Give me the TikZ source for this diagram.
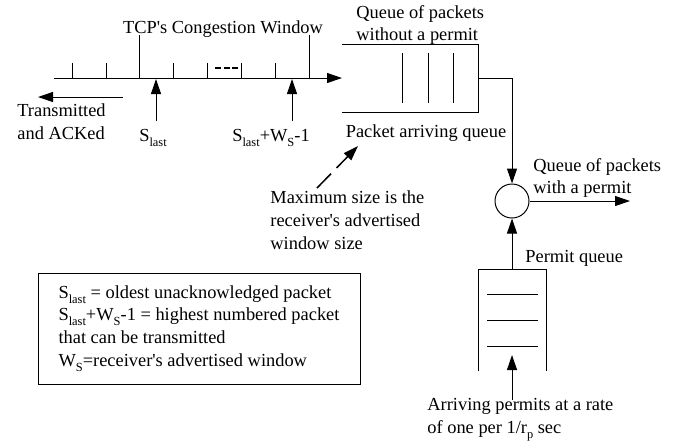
\documentclass[tikz,border=0pt]{standalone}
\usepackage{fontspec}
\setmainfont{Liberation Serif}
\usetikzlibrary{arrows.meta}
\newcommand{\lowsub}[1]{\raisebox{-2.5pt}{\fontsize{6.2}{6.2}\selectfont #1}}
\tikzset{
  lbl/.style={font=\fontsize{9.2}{11.4}\selectfont, inner sep=0pt},
  lblleft/.style={lbl, align=left, anchor=west},
  qline/.style={line width=0.5pt},
  flow/.style={qline, -{Triangle[length=7.5pt,width=5pt]}},
  legendbox/.style={lbl, draw, qline, align=left, minimum width=161pt, minimum height=55.5pt},
  mux/.style={draw, qline, circle, minimum size=17pt, inner sep=0pt},
}

\begin{document}
\begin{tikzpicture}[x=0.5pt,y=-0.5pt]
    \useasboundingbox (0,0) rectangle (688,447);
    % congestion window axis
    \coordinate (ax0) at (54,78);
    \coordinate (ax1) at (342,78);
    \draw[flow] (ax0) -- (ax1);
    \foreach \x in {72,106,173,207,241,275}
      \draw[qline] (\x,78) -- (\x,63);
    \foreach \x in {139,309}
      \draw[qline] (\x,78) -- (\x,35);
    \draw[line width=1pt, dash pattern=on 3pt off 1.3pt] (215,68) -- (238.5,68);
    \node[lbl, anchor=base] (cwnd) at (223,33) {TCP\textquotesingle s Congestion Window};
    % pointers into the window
    \coordinate (sl0) at (156,121);
    \coordinate (sl1) at (156,79);
    \draw[flow] (sl0) -- (sl1);
    \node[lbl, anchor=base] (slast) at (153,141) {S\lowsub{last}};
    \coordinate (sw0) at (292,121);
    \coordinate (sw1) at (292,79);
    \draw[flow] (sw0) -- (sw1);
    \node[lbl, anchor=base] (swin) at (271,141) {S\lowsub{last}+W\lowsub{S}-1};
    \coordinate (tx0) at (123,97);
    \coordinate (tx1) at (38,97);
    \draw[flow] (tx0) -- (tx1);
    \node[lblleft] (acked) at (17,122) {Transmitted\\and ACKed};
    % packet arriving queue
    \draw[qline] (342,44) -- (478,44) -- (478,112) -- (342,112);
    \foreach \x in {402,428,453}
      \draw[qline] (\x,53) -- (\x,103);
    \node[lblleft] (noperm) at (356,25) {Queue of packets\\without a permit};
    \node[lbl, anchor=base] (pktq) at (426,137) {Packet arriving queue};
    \coordinate (qout) at (478,78);
    % permit check
    \node[mux] (gate) at (512,201) {};
    \draw[flow] (qout) -| (gate.north);
    \coordinate (out) at (630,201);
    \draw[flow] (gate.east) -- (out);
    \node[lblleft] (withperm) at (533,178) {Queue of packets\\with a permit};
    % permit queue
    \draw[qline] (478,371) -- (478,269) -- (546,269) -- (546,371);
    \foreach \y in {294,320,346}
      \draw[qline] (487,\y) -- (538,\y);
    \coordinate (ptop) at (512,269);
    \draw[flow] (ptop) -- (gate.south);
    \node[lbl, anchor=base west] (permq) at (525,262) {Permit queue};
    \coordinate (pa0) at (512,400);
    \coordinate (pa1) at (512,355);
    \draw[flow] (pa0) -- (pa1);
    \node[lblleft] (arrive) at (427,420) {Arriving permits at a rate\\of one per 1/r\lowsub{p} sec};
    % advertised window note
    \node[lblleft] (maxsize) at (270,220) {Maximum size is the\\receiver\textquotesingle s advertised\\window size};
    \coordinate (ms0) at (317,188);
    \coordinate (ms1) at (358,146);
    \draw[flow, line width=0.75pt, dash pattern=on 10pt off 4pt] (ms0) -- (ms1);
    % legend
    \node[legendbox] (legend) at (199,328.5) {S\lowsub{last} = oldest unacknowledged packet\\S\lowsub{last}+W\lowsub{S}-1 = highest numbered packet\\that can be transmitted\\W\lowsub{S}=receiver\textquotesingle s advertised window};
\end{tikzpicture}
\end{document}
